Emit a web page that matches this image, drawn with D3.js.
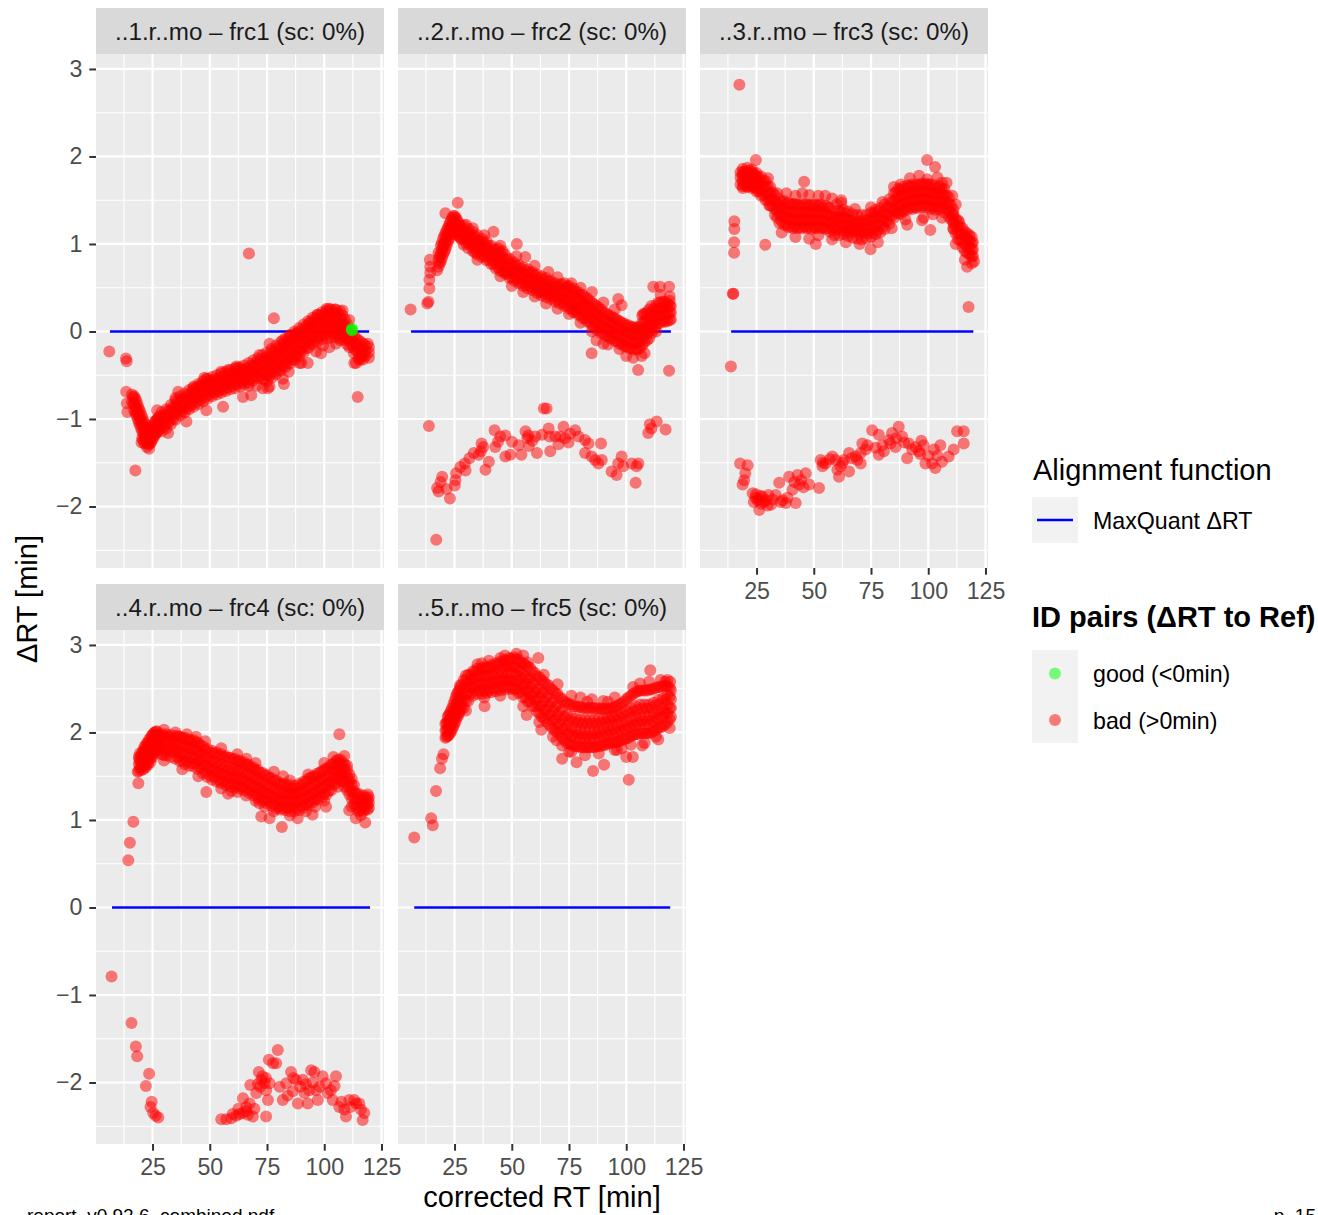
<!DOCTYPE html>
<html><head><meta charset="utf-8">
<script src="https://cdn.jsdelivr.net/npm/d3@7"></script>
<style>
body{margin:0;background:#fff;}
svg text{font-family:"Liberation Sans",Arial,Helvetica,sans-serif;}
</style>
</head><body>
<svg id="chart" width="1318" height="1215"></svg>
<script>
// ---------- data ----------
const stripLabels = ["..1.r..mo \u2013 frc1 (sc: 0%)","..2.r..mo \u2013 frc2 (sc: 0%)","..3.r..mo \u2013 frc3 (sc: 0%)","..4.r..mo \u2013 frc4 (sc: 0%)","..5.r..mo \u2013 frc5 (sc: 0%)"];
const xTickValues = [25,50,75,100,125];
const xMinorValues = [12.5,37.5,62.5,87.5,112.5];
const yTickValues = [-2,-1,0,1,2,3];
const yMinorValues = [-2.5,-1.5,-0.5,0.5,1.5,2.5];
const xDomain = [0.3,126.1];
const yDomain = [-2.703,3.171];
const alignStart = [6.4,6.0,13.9,7.3,7.4];
const alignEnd = [119.6,119.5,119.7,120.0,119.2];

// dense bands: [x, y values...]
const band1 = [
[16,-0.72,-0.80],[17,-0.74,-0.82,-0.90],[18,-0.80,-0.88,-0.96],[19,-0.88,-0.96,-1.04],[20,-0.95,-1.03,-1.11],
[21,-1.02,-1.10,-1.18,-1.25],[22,-1.08,-1.16,-1.24],[23,-1.12,-1.20,-1.28],[24,-1.14,-1.22,-1.28],[25,-1.08,-1.16,-1.23],
[26,-1.03,-1.10,-1.18],[27,-1.00,-1.07,-1.15],[28,-0.97,-1.04,-1.11],[30,-0.95,-1.02,-1.09],[32,-0.90,-0.97,-1.04],
[34,-0.86,-0.93,-1.00],[36,-0.80,-0.87,-0.94],[38,-0.77,-0.84,-0.91],[40,-0.73,-0.80,-0.88],[42,-0.69,-0.76,-0.84],
[44,-0.65,-0.73,-0.81],[46,-0.62,-0.70,-0.78],[48,-0.59,-0.67,-0.75],[50,-0.57,-0.64,-0.72],[52,-0.55,-0.62,-0.70],
[54,-0.53,-0.60,-0.68],[56,-0.51,-0.58,-0.66],[58,-0.49,-0.56,-0.64],[60,-0.47,-0.54,-0.62],[62,-0.46,-0.53,-0.60],
[64,-0.44,-0.51,-0.58],[66,-0.42,-0.49,-0.57],[68,-0.39,-0.46,-0.54],[70,-0.36,-0.43,-0.51],[72,-0.33,-0.41,-0.50],
[74,-0.30,-0.38,-0.47,-0.55],[76,-0.26,-0.34,-0.43,-0.51],[78,-0.22,-0.30,-0.39,-0.47],[80,-0.18,-0.26,-0.35,-0.44],
[82,-0.14,-0.22,-0.31,-0.40],[84,-0.10,-0.18,-0.27,-0.36],[86,-0.06,-0.14,-0.23,-0.32],[88,-0.02,-0.10,-0.19,-0.28],
[90,0.02,-0.06,-0.14,-0.23],[92,0.06,-0.02,-0.10,-0.19],[94,0.11,0.03,-0.05,-0.14],[96,0.15,0.07,-0.01,-0.10],
[98,0.18,0.10,0.02,-0.06],[100,0.20,0.12,0.04,-0.04],[102,0.21,0.13,0.05,-0.04],[104,0.22,0.14,0.06,-0.02],
[106,0.21,0.13,0.05,-0.03],[108,0.18,0.10,0.02,-0.05],[110,0.08,0.00,-0.08,-0.15],[112,-0.02,-0.09,-0.16],
[114,-0.08,-0.15,-0.22],[116,-0.12,-0.19,-0.26,-0.30],[118,-0.16,-0.22,-0.28],[119.5,-0.18,-0.24,-0.30]
];
const band1b = [
[16.5,-0.75,-0.83],[17.5,-0.77,-0.85,-0.93],[18.5,-0.84,-0.92,-1.00],[19.5,-0.91,-0.99,-1.07],[20.5,-0.98,-1.06,-1.14,-1.22],
[21.5,-1.05,-1.13,-1.21,-1.28],[22.5,-1.10,-1.18,-1.26,-1.32],[23.5,-1.13,-1.21,-1.29,-1.34],[24.5,-1.11,-1.19,-1.26],
[25.5,-1.06,-1.13,-1.21],[26.5,-1.02,-1.09,-1.17],[27.5,-0.99,-1.06,-1.13],
[29,-0.92,-0.99,-1.07,-1.14],[31,-0.89,-0.96,-1.04,-1.11],[33,-0.84,-0.91,-0.99,-1.06],[35,-0.79,-0.86,-0.94,-1.01],
[37,-0.74,-0.81,-0.89,-0.96],[39,-0.71,-0.78,-0.86,-0.93],[41,-0.67,-0.74,-0.82,-0.89],[43,-0.63,-0.70,-0.78,-0.86],
[45,-0.60,-0.67,-0.75,-0.83],[47,-0.57,-0.64,-0.72,-0.80],[49,-0.54,-0.61,-0.69,-0.77],[51,-0.52,-0.59,-0.67,-0.74],
[53,-0.50,-0.57,-0.65,-0.72],[55,-0.48,-0.55,-0.63,-0.70],[57,-0.46,-0.53,-0.61,-0.68],[59,-0.44,-0.51,-0.59,-0.66],
[61,-0.42,-0.49,-0.57,-0.65],[63,-0.41,-0.48,-0.56,-0.63],[65,-0.39,-0.46,-0.54,-0.61],[67,-0.36,-0.43,-0.51,-0.59],
[69,-0.33,-0.40,-0.48,-0.56],[71,-0.31,-0.38,-0.46,-0.53],[73,-0.27,-0.35,-0.45,-0.54],[75,-0.24,-0.32,-0.41,-0.50,-0.57],
[77,-0.20,-0.28,-0.37,-0.46,-0.53],[79,-0.16,-0.24,-0.33,-0.42,-0.49],[81,-0.12,-0.20,-0.29,-0.38,-0.45],
[83,-0.08,-0.16,-0.25,-0.34,-0.41],[85,-0.04,-0.12,-0.21,-0.30,-0.37],[87,0.00,-0.08,-0.17,-0.26,-0.33],
[89,0.04,-0.04,-0.13,-0.22,-0.29],[91,0.08,0.00,-0.08,-0.17,-0.24],[93,0.12,0.04,-0.04,-0.12,-0.19],
[95,0.16,0.08,0.00,-0.08,-0.15],[97,0.19,0.11,0.03,-0.05,-0.12],[99,0.22,0.14,0.06,-0.02,-0.09],
[101,0.24,0.16,0.08,0.00,-0.08],[103,0.25,0.17,0.09,0.01,-0.07],[105,0.25,0.17,0.09,0.01,-0.07],
[107,0.23,0.15,0.07,-0.01,-0.08],[109,0.14,0.06,-0.02,-0.10],[111,0.03,-0.04,-0.11,-0.18],[113,-0.05,-0.12,-0.19,-0.25],
[115,-0.10,-0.17,-0.24,-0.31],[117,-0.14,-0.21,-0.27,-0.32]
];
const edge1 = [[42.7,-0.65],[48.5,-0.54],[61.6,-0.40],[71.7,-0.27],[76.1,-0.14],[81.9,-0.10],[87.7,-0.02],[93.5,0.09],
[97.2,0.19],[102.2,0.26],[108.0,0.24],[110.9,0.13],[119.0,-0.14],[73.2,-0.65],[76.1,-0.63],[64.5,-0.75],[55.8,-0.86],
[48.5,-0.90],[39.8,-1.03],[31.8,-1.16],[81.9,-0.54],[89.2,-0.36],[96.4,-0.23],[105.1,-0.14],[102.2,-0.18],[113.9,-0.36],
[35.0,-0.76],[58.0,-0.44],[67.0,-0.62],[84.5,-0.46],[99.5,-0.16],[107.0,-0.10],[115.5,-0.33]];
const loose1 = [[6.1,-0.23],[13.4,-0.31],[13.7,-0.34],[13.5,-0.69],[13.8,-0.82],[14.0,-0.92],[17.5,-1.59],[20.2,-1.27],
[67.1,0.89],[78.0,0.15],[82.4,-0.60],[114.6,-0.75],[113.1,-0.36],[36.2,-0.69],[27.0,-0.90],[47.6,-0.53],[55.0,-0.46],
[68.1,-0.73],[75.4,-0.65],[98.6,-0.25],[92.8,-0.36],[90.0,-0.36],[45.6,-0.62],[62.0,-0.42],[70.5,-0.62],[85.0,-0.05],
[104.6,0.25],[101.0,0.26]];
const goodUnder1 = [[90.8,0.0],[91.6,0.0],[108.3,0.0],[108.9,0.01]];
const goodOver1 = [[112.0,0.02],[112.2,0.01],[112.1,0.03]];

const band2 = [
[18,0.74,0.82,0.90],[19,0.80,0.89,0.98],[20,0.88,0.97,1.06],[21,0.94,1.03,1.12],[22,1.02,1.10,1.18],[23,1.08,1.16,1.24],
[24,1.14,1.22,1.30],[25,1.16,1.24,1.32],[26,1.12,1.20,1.28],[27,1.09,1.16,1.22],[28,1.05,1.12,1.18],[30,1.01,1.08,1.14],
[32,0.98,1.05,1.12],[34,0.94,1.01,1.08],[36,0.90,0.97,1.04],[38,0.86,0.94,1.01],[40,0.82,0.90,0.98],[42,0.77,0.85,0.93],
[44,0.73,0.81,0.89,0.95],[46,0.69,0.77,0.85,0.92],[48,0.66,0.74,0.82],[50,0.62,0.70,0.78],[52,0.59,0.67,0.75],
[54,0.56,0.64,0.72],[56,0.53,0.61,0.69],[58,0.51,0.59,0.67],[60,0.49,0.56,0.64],[62,0.46,0.53,0.61],[64,0.44,0.51,0.59],
[66,0.42,0.49,0.57],[68,0.39,0.46,0.54],[70,0.36,0.43,0.51],[72,0.33,0.40,0.48,0.54],[74,0.30,0.37,0.45,0.51],
[76,0.26,0.34,0.42,0.48],[78,0.22,0.30,0.38,0.45],[80,0.19,0.27,0.35,0.42],[82,0.15,0.23,0.31,0.39],[84,0.11,0.19,0.27,0.35],
[86,0.06,0.14,0.22,0.31],[88,0.02,0.10,0.18,0.27],[90,-0.02,0.06,0.14,0.22],[92,-0.05,0.03,0.11,0.19],[94,-0.08,0.00,0.08,0.16],
[96,-0.11,-0.03,0.05,0.13],[98,-0.14,-0.06,0.02,0.10],[100,-0.17,-0.09,-0.01,0.07],[102,-0.19,-0.11,-0.03,0.05],
[104,-0.20,-0.12,-0.04,0.04],[106,-0.19,-0.11,-0.03,0.05],[108,-0.12,-0.04,0.04,0.12,0.20],[110,-0.08,0.00,0.08,0.16,0.25],
[112,0.02,0.10,0.18,0.26],[114,0.10,0.18,0.26,0.33],[116,0.12,0.20,0.28,0.34],[118,0.12,0.20,0.27,0.32],[119.5,0.14,0.22,0.29]
];
const band2b = [
[18.5,0.78,0.86],[19.5,0.84,0.93,1.01],[20.5,0.91,1.00,1.09],[21.5,0.98,1.07,1.15],[22.5,1.05,1.13,1.21],[23.5,1.11,1.19,1.27],
[24.5,1.16,1.24,1.32],[25.5,1.14,1.22,1.30],[26.5,1.10,1.18,1.25],[27.5,1.07,1.14,1.21],
[29,0.99,1.06,1.14,1.21],[31,0.95,1.02,1.10,1.17],[33,0.92,0.99,1.07,1.14],[35,0.88,0.95,1.03,1.10],[37,0.85,0.92,0.99,1.06],
[39,0.81,0.88,0.96,1.03],[41,0.77,0.84,0.91,0.98],[43,0.72,0.79,0.87,0.94],[45,0.69,0.76,0.84,0.91],[47,0.66,0.73,0.81,0.88],
[49,0.61,0.68,0.76,0.83],[51,0.58,0.65,0.72,0.79],[53,0.55,0.62,0.69,0.76],[55,0.52,0.59,0.66,0.73],[57,0.49,0.56,0.64,0.71],
[59,0.47,0.54,0.61,0.68],[61,0.44,0.51,0.58,0.65],[63,0.41,0.48,0.56,0.63],[65,0.39,0.46,0.54,0.61],[67,0.37,0.44,0.51,0.58],
[69,0.34,0.41,0.48,0.55],[71,0.32,0.39,0.47,0.54],[73,0.29,0.37,0.46,0.55],[75,0.26,0.34,0.43,0.52],[77,0.22,0.30,0.40,0.49],
[79,0.19,0.27,0.36,0.45],[81,0.15,0.23,0.33,0.42],[83,0.11,0.19,0.29,0.38],[85,0.07,0.15,0.24,0.33],[87,0.02,0.10,0.20,0.29],
[89,-0.02,0.06,0.16,0.25],[91,-0.05,0.03,0.12,0.21],[93,-0.08,0.00,0.09,0.18],[95,-0.11,-0.03,0.06,0.15],
[97,-0.14,-0.06,0.03,0.12],[99,-0.17,-0.09,0.00,0.09],[101,-0.19,-0.11,-0.02,0.07],[103,-0.21,-0.13,-0.04,0.05],
[105,-0.21,-0.13,-0.04,0.05],[107,-0.16,-0.08,0.01,0.10,0.18],[109,-0.10,-0.02,0.06,0.14,0.22],[111,-0.02,0.06,0.14,0.22,0.29],
[113,0.06,0.14,0.22,0.30],[115,0.10,0.18,0.26,0.33],[117,0.11,0.19,0.27,0.34],[119,0.13,0.21,0.29,0.35]
];
const edge2 = [[30,1.22],[38,1.10],[45,0.98],[60,0.75],[70,0.62],[80,0.50],[85,0.45],[90,0.33],[95,0.25],[35,0.82],[45,0.63],
[55,0.45],[65,0.32],[75,0.20],[85,0.00],[92,-0.15],[100,-0.28],[103,-0.30],[108,-0.25],[113,0.0],[33,1.18],[52,0.86],
[66,0.68],[76,0.55],[50,0.52],[60,0.40],[70,0.26],[80,0.10],[97,-0.20],[115,0.42],[119,0.40]];
const loose2 = [[5.8,0.25],[13.1,0.32],[13.6,0.34],[14.0,0.49],[14.0,0.59],[14.4,0.67],[14.4,0.74],[14.2,0.82],[17.4,0.70],
[26.4,1.47],[21.0,1.35],[42.0,1.14],[52.2,1.00],[55.9,0.85],[111.8,0.51],[114.7,0.51],[118.7,0.51],[96.5,0.37],[98.0,0.30],
[84.9,-0.25],[105.2,-0.44],[118.7,-0.45],[106.7,-0.28],[87.0,-0.10],[90.0,-0.14],[107.4,0.20],[34.0,0.90],[47.0,0.68],
[63.0,0.45],[78.0,0.25]];
const lower2 = [[13.8,-1.08],[17.0,-2.38],[17.4,-1.79],[18.9,-1.72],[19.6,-1.66],[23.0,-1.91],[25.4,-1.70],[25.7,-1.62],
[25.1,-1.76],[18.0,-1.83],[21.5,-1.80],[29.5,-1.51],[29.8,-1.59],[33.4,-1.39],[35.6,-1.41],[36.5,-1.37],[37.5,-1.32],
[36.8,-1.28],[38.5,-1.58],[40.0,-1.49],[42.5,-1.13],[42.8,-1.32],[45.0,-1.20],[47.2,-1.19],[47.2,-1.43],[49.4,-1.41],
[50.1,-1.26],[54.2,-1.41],[56.0,-1.14],[56.8,-1.22],[57.5,-1.31],[57.2,-1.19],[61.0,-1.39],[60.3,-1.20],[63.2,-1.18],
[64.0,-0.88],[65.2,-0.88],[66.1,-1.11],[66.5,-1.20],[66.8,-1.37],[69.0,-1.20],[71.2,-1.20],[72.6,-1.09],[73.3,-1.22],
[70.4,-1.29],[74.8,-1.27],[77.7,-1.13],[79.1,-1.20],[82.0,-1.24],[83.5,-1.28],[82.0,-1.39],[84.9,-1.43],[86.4,-1.47],
[87.8,-1.51],[89.3,-1.47],[89.0,-1.28],[93.6,-1.60],[95.8,-1.64],[98.0,-1.43],[96.5,-1.51],[98.7,-1.54],[102.4,-1.51],
[104.5,-1.54],[105.3,-1.51],[104.1,-1.73],[110.3,-1.06],[109.6,-1.16],[113.3,-1.03],[117.2,-1.12],[111.0,-1.11],
[59.0,-1.25],[53.0,-1.30],[44.0,-1.26],[31.5,-1.45],[27.5,-1.55],[75.5,-1.17]];
const goodUnder2 = [[102.2,0.0],[105.1,0.0],[106.6,0.0]];

const band3 = [
[18,1.68,1.76,1.82],[19,1.66,1.74,1.82],[20,1.67,1.75,1.83],[21,1.66,1.74,1.82],[22,1.68,1.76,1.84],[23,1.66,1.74,1.82],
[24,1.65,1.73,1.80],[25,1.63,1.71,1.78],[26,1.60,1.68,1.76],[28,1.56,1.64,1.72],[30,1.50,1.58,1.66],[32,1.43,1.51,1.59],
[34,1.30,1.38,1.46],[36,1.26,1.34,1.42,1.48],[38,1.22,1.30,1.38,1.46],[40,1.20,1.28,1.36,1.45],[42,1.20,1.28,1.36,1.45],
[44,1.19,1.27,1.35,1.44],[46,1.20,1.28,1.36,1.45],[48,1.19,1.27,1.35,1.44],[50,1.19,1.27,1.35,1.44],[52,1.20,1.28,1.36,1.44],
[54,1.19,1.27,1.35,1.42],[56,1.18,1.26,1.34,1.42],[58,1.17,1.25,1.32],[60,1.16,1.23,1.31],[62,1.15,1.22,1.30,1.36],
[64,1.15,1.22,1.29,1.35],[66,1.14,1.21,1.28],[68,1.13,1.20,1.27],[70,1.12,1.19,1.26],[72,1.12,1.19,1.27],[74,1.12,1.20,1.28],
[76,1.13,1.21,1.29,1.35],[78,1.15,1.23,1.31,1.37],[80,1.20,1.28,1.36],[82,1.26,1.34,1.42],[84,1.32,1.40,1.48],
[86,1.36,1.44,1.52,1.59],[88,1.38,1.46,1.54,1.62],[90,1.40,1.48,1.56,1.63],[92,1.42,1.50,1.58,1.66],[94,1.42,1.50,1.58,1.66],
[96,1.43,1.51,1.59,1.67],[98,1.44,1.52,1.60,1.68],[100,1.43,1.51,1.59,1.68],[102,1.42,1.50,1.58,1.64],[104,1.42,1.50,1.58,1.64],
[106,1.42,1.50,1.57,1.62],[108,1.40,1.48,1.56],[110,1.28,1.36,1.44],[111,1.18,1.26,1.34],[112,1.12,1.20,1.28],
[114,1.04,1.12,1.20],[116,0.92,1.00,1.08,1.14],[118,0.88,0.96,1.04,1.10],[119.5,0.86,0.94,1.02]
];
const band3b = [
[19,1.64,1.71,1.79,1.86],[21,1.65,1.72,1.80,1.87],[23,1.64,1.71,1.78,1.85],[25,1.60,1.67,1.74,1.81],[27,1.55,1.62,1.70,1.77],
[29,1.50,1.57,1.65,1.72],[31,1.44,1.51,1.58,1.65],[33,1.33,1.40,1.49,1.56],[35,1.24,1.33,1.42,1.51],[37,1.22,1.31,1.40,1.49],
[39,1.19,1.28,1.38,1.47],[41,1.18,1.27,1.37,1.46],[43,1.18,1.27,1.36,1.45],[45,1.18,1.27,1.36,1.45],[47,1.18,1.27,1.36,1.45],
[49,1.17,1.26,1.36,1.45],[51,1.18,1.27,1.36,1.45],[53,1.18,1.27,1.36,1.45],[55,1.17,1.26,1.35,1.44],[57,1.14,1.23,1.32,1.41],
[59,1.10,1.19,1.29,1.38],[61,1.10,1.19,1.29,1.38],[63,1.11,1.20,1.30,1.39],[65,1.09,1.18,1.28,1.37],[67,1.07,1.16,1.25,1.34],
[69,1.06,1.15,1.24,1.33],[71,1.05,1.14,1.24,1.33],[73,1.06,1.15,1.24,1.33],[75,1.08,1.17,1.27,1.36],[77,1.11,1.20,1.30,1.39],
[79,1.13,1.22,1.32,1.41],[81,1.17,1.26,1.36,1.45],[83,1.23,1.32,1.42,1.51],[85,1.30,1.39,1.49,1.58],[87,1.35,1.44,1.54,1.63],
[89,1.37,1.46,1.56,1.65],[91,1.39,1.48,1.58,1.67],[93,1.40,1.49,1.59,1.68],[95,1.41,1.50,1.59,1.68],[97,1.42,1.51,1.60,1.69],
[99,1.42,1.51,1.60,1.69],[101,1.40,1.49,1.59,1.68],[103,1.39,1.48,1.58,1.67],[105,1.39,1.48,1.57,1.66],[107,1.36,1.45,1.55,1.63],
[109,1.31,1.38,1.46,1.53],[111,1.17,1.24,1.32,1.39],[113,1.05,1.12,1.20,1.27],[115,0.96,1.03,1.11,1.18],[117,0.90,0.97,1.05,1.12],
[119,0.86,0.93,1.01,1.08]
];
const edge3 = [[30,1.75],[38,1.58],[42,1.55],[48,1.56],[55,1.55],[60,1.45],[68,1.40],[75,1.42],[85,1.65],[92,1.75],[96,1.78],
[104,1.76],[108,1.70],[112,1.45],[36,1.13],[42,1.08],[48,1.06],[58,1.05],[64,1.02],[70,1.00],[78,1.02],[84,1.18],[90,1.28],
[98,1.30],[106,1.30],[112,1.00],[116,0.82],[119,0.78],[34,1.58],[45,1.58],[52,1.10],[62,1.50],[80,1.48],[88,1.34],[102,1.34]];
const loose3 = [[17.5,2.82],[15.3,1.26],[15.3,1.17],[15.2,1.02],[15.2,0.90],[14.6,0.43],[14.9,0.43],[28.8,0.99],[45.8,1.71],
[24.7,1.96],[99.5,1.96],[103.0,1.88],[99.5,1.74],[117.6,0.28],[117.0,0.74],[100.9,1.16],[50.9,1.00],[74.8,0.94],[90.8,1.22],
[97.3,1.27],[30.6,1.44],[52.0,1.55],[58.0,1.52],[65.0,1.13],[62.0,1.47],[88.0,1.68],[106.0,1.70],[110.5,1.55],[113.5,1.25],
[120.0,0.80],[13.8,-0.40]];
const lower3 = [[17.8,-1.51],[21.1,-1.53],[20.1,-1.62],[19.6,-1.70],[18.9,-1.75],[23.3,-1.85],[25.4,-1.93],[26.2,-2.04],
[27.6,-1.89],[29.1,-1.93],[31.3,-1.98],[33.4,-1.87],[34.9,-1.73],[36.3,-1.93],[37.8,-1.96],[39.2,-1.66],[40.7,-1.81],
[42.1,-1.96],[42.9,-1.64],[43.6,-1.75],[46.5,-1.62],[48.0,-1.75],[52.3,-1.79],[24.5,-1.90],[26.8,-1.88],[28.3,-1.95],
[30.2,-1.87],[32.0,-1.92],[35.5,-1.95],[38.5,-1.90],[41.5,-1.72],[44.5,-1.70],[45.5,-1.78],[23.8,-1.95],[27.0,-1.97],
[29.8,-1.99],[24.8,-1.86],[26.0,-1.92],[53.0,-1.47],[53.8,-1.54],[55.2,-1.51],[58.1,-1.43],[59.6,-1.47],[61.7,-1.54],
[61.0,-1.66],[60.3,-1.58],[63.2,-1.47],[65.4,-1.39],[65.4,-1.60],[68.3,-1.43],[70.5,-1.51],[70.5,-1.39],[71.2,-1.28],
[72.6,-1.35],[54.0,-1.50],[57.0,-1.46],[62.5,-1.50],[66.5,-1.45],[69.0,-1.47],[73.5,-1.30],[75.5,-1.13],[78.4,-1.18],
[77.0,-1.33],[78.4,-1.41],[80.6,-1.37],[82.8,-1.24],[84.2,-1.16],[87.1,-1.09],[85.7,-1.32],[88.6,-1.20],[91.5,-1.28],
[90.8,-1.45],[93.0,-1.35],[95.9,-1.37],[98.0,-1.30],[98.8,-1.51],[101.7,-1.51],[103.1,-1.56],[105.3,-1.30],[106.0,-1.49],
[108.9,-1.43],[111.1,-1.35],[112.6,-1.14],[115.5,-1.14],[115.5,-1.28],[80.0,-1.30],[83.5,-1.28],[86.0,-1.22],[89.5,-1.27],
[94.5,-1.32],[96.5,-1.40],[100.0,-1.42],[97.0,-1.25],[102.5,-1.35],[104.0,-1.42]];

const band4 = [
[19,1.56,1.64,1.72],[20,1.57,1.65,1.73],[21,1.58,1.66,1.74,1.80],[22,1.60,1.68,1.76,1.84],[23,1.63,1.71,1.79,1.88],
[24,1.66,1.74,1.82,1.92],[25,1.72,1.80,1.88,1.97],[26,1.78,1.86,1.94,2.00],[27,1.80,1.88,1.96,2.01],[28,1.80,1.88,1.96],
[30,1.80,1.88,1.96],[32,1.79,1.87,1.95],[34,1.77,1.85,1.93],[36,1.72,1.80,1.88,1.96],[38,1.68,1.76,1.84,1.94],
[40,1.67,1.75,1.83,1.92],[42,1.65,1.73,1.81,1.90],[44,1.64,1.72,1.80,1.89],[46,1.60,1.68,1.76,1.85],[48,1.55,1.63,1.71,1.80],
[50,1.51,1.59,1.67,1.77],[52,1.49,1.57,1.65,1.76],[54,1.46,1.54,1.62,1.74],[56,1.44,1.52,1.60,1.72],[58,1.42,1.50,1.58,1.71],
[60,1.41,1.49,1.57,1.69],[62,1.40,1.48,1.56,1.67],[64,1.38,1.46,1.54,1.65],[66,1.36,1.44,1.52,1.63],[68,1.33,1.41,1.49,1.60],
[70,1.30,1.38,1.46,1.57],[72,1.27,1.35,1.43,1.54],[74,1.24,1.32,1.40,1.51],[76,1.21,1.29,1.37,1.48],[78,1.18,1.26,1.34,1.45],
[80,1.15,1.23,1.31,1.42],[82,1.14,1.22,1.30,1.40],[84,1.14,1.22,1.30,1.38],[86,1.14,1.22,1.30,1.36],[88,1.14,1.22,1.30,1.36],
[90,1.16,1.24,1.32,1.40],[92,1.18,1.26,1.34,1.44],[94,1.21,1.29,1.37,1.48],[96,1.24,1.32,1.40,1.50],[98,1.28,1.36,1.44,1.54],
[100,1.30,1.38,1.46,1.57],[102,1.33,1.41,1.49,1.60],[104,1.40,1.48,1.56,1.64],[106,1.48,1.56,1.64,1.69],[108,1.44,1.52,1.60,1.66],
[110,1.34,1.42,1.50,1.57],[112,1.24,1.32,1.40,1.47],[114,1.14,1.22,1.30],[116,1.11,1.18,1.26],[118,1.12,1.19,1.26],
[119.5,1.14,1.20,1.26]
];
const band4b = [
[19.5,1.60,1.68,1.76],[20.5,1.61,1.69,1.77],[21.5,1.62,1.70,1.78,1.84],[22.5,1.64,1.72,1.80,1.88],[23.5,1.68,1.76,1.84,1.92],
[24.5,1.72,1.80,1.88,1.96],[25.5,1.76,1.84,1.92,1.99],[26.5,1.80,1.88,1.96,2.01],[27.5,1.82,1.90,1.97],
[29,1.75,1.83,1.92,1.98],[31,1.74,1.82,1.92,1.98],[33,1.72,1.81,1.91,1.97],[35,1.70,1.79,1.89,1.96],[37,1.67,1.76,1.87,1.95],
[39,1.64,1.73,1.85,1.94],[41,1.62,1.71,1.83,1.92],[43,1.61,1.70,1.82,1.91],[45,1.58,1.67,1.79,1.88],[47,1.53,1.63,1.75,1.84],
[49,1.49,1.59,1.71,1.81],[51,1.46,1.56,1.68,1.79],[53,1.44,1.54,1.66,1.77],[55,1.42,1.52,1.64,1.75],[57,1.40,1.50,1.62,1.73],
[59,1.38,1.48,1.60,1.71],[61,1.37,1.47,1.59,1.70],[63,1.36,1.46,1.58,1.68],[65,1.34,1.44,1.56,1.66],[67,1.31,1.41,1.53,1.63],
[69,1.28,1.38,1.50,1.60],[71,1.25,1.35,1.47,1.57],[73,1.22,1.32,1.44,1.54],[75,1.19,1.29,1.41,1.51],[77,1.16,1.26,1.38,1.48],
[79,1.13,1.23,1.35,1.45],[81,1.12,1.22,1.33,1.42],[83,1.11,1.21,1.32,1.41],[85,1.10,1.20,1.31,1.40],[87,1.10,1.20,1.30,1.39],
[89,1.11,1.21,1.32,1.41],[91,1.14,1.24,1.35,1.44],[93,1.17,1.27,1.38,1.47],[95,1.20,1.30,1.41,1.50],[97,1.23,1.33,1.44,1.53],
[99,1.26,1.36,1.47,1.56],[101,1.29,1.39,1.50,1.59],[103,1.34,1.44,1.55,1.63],[105,1.42,1.51,1.60,1.67],[107,1.45,1.53,1.62,1.69],
[109,1.38,1.47,1.56,1.63],[111,1.29,1.37,1.45,1.52],[113,1.18,1.25,1.33,1.40],[115,1.10,1.16,1.24,1.30],[117,1.10,1.16,1.22,1.28],
[119,1.12,1.18,1.24,1.29]
];
const edge4 = [[30,2.03],[40,1.98],[48,1.90],[55,1.82],[62,1.75],[70,1.65],[78,1.55],[85,1.45],[93,1.52],[100,1.65],[104,1.72],
[30,1.68],[38,1.58],[45,1.50],[55,1.36],[62,1.32],[70,1.22],[78,1.10],[85,1.05],[92,1.10],[100,1.22],[106,1.38],[112,1.15],
[116,1.05],[35,2.00],[44,1.95],[58,1.30],[66,1.70],[74,1.15],[82,1.50],[96,1.15],[110,1.62]];
const loose4 = [[7.1,-0.79],[14.4,0.54],[15.1,0.74],[16.6,0.98],[18.8,1.42],[106.6,1.98],[29.9,1.74],[48.5,1.32],[59.4,1.33],
[65.9,1.28],[71.7,1.19],[72.5,1.04],[76.1,1.02],[81.5,0.92],[88.4,1.02],[94.9,1.06],[100.8,1.15],[110.9,1.11],[113.8,1.02],
[117.9,0.97],[108.8,1.73],[18.5,1.55],[19.2,1.70]];
const lower4 = [[15.8,-1.32],[17.7,-1.59],[18.3,-1.70],[23.5,-1.90],[22.1,-2.04],[24.6,-2.22],[24.1,-2.28],[25.3,-2.35],
[26.4,-2.38],[27.5,-2.40],[55.0,-2.42],[57.2,-2.42],[59.4,-2.41],[61.6,-2.38],[64.5,-2.35],[66.7,-2.37],[68.8,-2.39],
[64.5,-2.18],[65.9,-2.28],[67.4,-2.24],[67.7,-2.03],[70.3,-2.12],[71.4,-1.88],[72.5,-1.97],[73.9,-2.01],[74.6,-2.09],
[75.4,-2.20],[76.1,-2.01],[75.8,-1.74],[77.6,-1.78],[79.7,-1.63],[79.0,-1.78],[74.6,-2.39],[81.9,-2.20],[83.4,-2.01],
[85.5,-1.88],[86.3,-2.10],[87.7,-1.97],[88.5,-2.24],[90.6,-1.97],[91.4,-2.12],[92.8,-2.24],[93.5,-2.09],[94.3,-1.86],
[95.7,-1.88],[96.4,-2.09],[97.2,-2.20],[99.3,-1.93],[100.8,-2.01],[102.9,-2.09],[103.7,-2.20],[105.1,-1.93],[106.6,-2.28],
[108.8,-2.31],[109.5,-2.39],[110.9,-2.20],[113.1,-2.20],[115.3,-2.24],[116.0,-2.31],[116.8,-2.43],[117.5,-2.35],
[72.0,-2.05],[73.0,-1.93],[74.5,-1.95],[71.0,-2.02],[69.5,-2.30],[63.0,-2.36],[60.0,-2.36],[62.5,-2.30],[66.0,-2.33],
[80.5,-2.05],[84.0,-2.15],[89.5,-2.05],[92.0,-2.02],[98.0,-2.05],[101.5,-2.12],[104.5,-2.04],[107.5,-2.22],[111.5,-2.28],
[114.0,-2.24],[95.0,-2.00],[86.5,-1.95]];

const band5 = [
[21,1.94,2.02,2.10],[22,1.96,2.04,2.12,2.18],[23,1.99,2.07,2.15,2.22],[24,2.04,2.12,2.20,2.28],[25,2.10,2.18,2.26,2.36],
[26,2.17,2.25,2.33,2.44],[27,2.22,2.30,2.38,2.48],[28,2.28,2.36,2.44,2.54],[30,2.36,2.44,2.52,2.60],[32,2.44,2.52,2.60,2.66],
[34,2.48,2.56,2.64,2.70],[36,2.48,2.56,2.64,2.72],[38,2.48,2.56,2.64,2.73],[40,2.48,2.56,2.64,2.74],[42,2.50,2.58,2.66,2.76],
[44,2.51,2.59,2.67,2.78],[46,2.52,2.60,2.68,2.80],[48,2.52,2.60,2.68,2.76,2.82],[50,2.52,2.60,2.68,2.76,2.84],
[52,2.50,2.58,2.66,2.74,2.84],[54,2.46,2.54,2.62,2.70,2.80],[56,2.40,2.48,2.56,2.64,2.77],[58,2.36,2.44,2.52,2.62,2.74],
[60,2.30,2.38,2.46,2.56,2.68],[62,2.22,2.30,2.40,2.50,2.63],[64,2.16,2.26,2.36,2.46,2.58],[66,2.10,2.20,2.30,2.42,2.54],
[68,2.04,2.14,2.24,2.36,2.48],[70,2.00,2.10,2.20,2.32,2.44],[72,1.94,2.04,2.14,2.26,2.38],[74,1.88,1.98,2.08,2.20,2.34],
[76,1.86,1.96,2.06,2.18,2.32],[78,1.84,1.94,2.04,2.16,2.30],[80,1.83,1.93,2.03,2.15,2.29],[82,1.83,1.93,2.03,2.15,2.28],
[84,1.83,1.93,2.03,2.15,2.28],[86,1.83,1.93,2.03,2.15,2.28],[88,1.84,1.94,2.04,2.16,2.28],[90,1.85,1.95,2.05,2.16,2.27],
[92,1.87,1.97,2.07,2.17,2.26],[94,1.88,1.98,2.08,2.18,2.28],[96,1.89,1.99,2.09,2.20,2.30],[98,1.91,2.01,2.11,2.22,2.33],
[100,1.93,2.03,2.13,2.25,2.38],[102,1.96,2.06,2.16,2.28,2.42],[104,1.98,2.08,2.18,2.30,2.46],[106,1.99,2.09,2.20,2.32,2.48],
[108,1.99,2.09,2.20,2.32,2.48],[110,1.99,2.09,2.20,2.32,2.49],[112,2.02,2.12,2.22,2.34,2.50],[114,2.05,2.15,2.25,2.37,2.52],
[116,2.07,2.17,2.27,2.39,2.53],[118,2.12,2.22,2.32,2.43,2.53],[119.5,2.18,2.28,2.38,2.48]
];
const band5b = [
[21.5,1.95,2.03,2.11],[22.5,1.97,2.05,2.13,2.20],[23.5,2.01,2.09,2.17,2.25],[24.5,2.07,2.15,2.23,2.32],[25.5,2.13,2.21,2.30,2.40],
[26.5,2.19,2.27,2.36,2.46],[27.5,2.25,2.33,2.41,2.51],
[29,2.28,2.38,2.50,2.60],[31,2.36,2.46,2.57,2.66],[33,2.42,2.52,2.62,2.70],[35,2.44,2.54,2.65,2.73],[37,2.44,2.54,2.66,2.74],
[39,2.45,2.55,2.66,2.75],[41,2.46,2.56,2.68,2.77],[43,2.47,2.57,2.70,2.79],[45,2.48,2.59,2.71,2.81],[47,2.49,2.60,2.73,2.83],
[49,2.50,2.61,2.74,2.85],[51,2.49,2.60,2.74,2.86],[53,2.45,2.57,2.71,2.83],[55,2.40,2.52,2.66,2.79],[57,2.35,2.47,2.61,2.75],
[59,2.30,2.42,2.56,2.70],[61,2.24,2.36,2.50,2.64],[63,2.18,2.31,2.45,2.60],[65,2.13,2.26,2.40,2.55],[67,2.07,2.20,2.34,2.50],
[69,2.02,2.15,2.29,2.45],[71,1.97,2.10,2.24,2.40],[73,1.91,2.04,2.18,2.35],[75,1.87,2.00,2.14,2.32],[77,1.85,1.98,2.12,2.30],
[79,1.84,1.97,2.11,2.29],[81,1.83,1.96,2.10,2.28],[83,1.83,1.96,2.10,2.28],[85,1.83,1.96,2.10,2.28],[87,1.84,1.97,2.10,2.27],
[89,1.85,1.98,2.11,2.27],[91,1.86,1.99,2.12,2.27],[93,1.88,2.01,2.14,2.28],[95,1.89,2.02,2.15,2.29],[97,1.90,2.03,2.17,2.32],
[99,1.92,2.05,2.19,2.35],[101,1.94,2.07,2.22,2.40],[103,1.97,2.10,2.24,2.44],[105,1.98,2.12,2.26,2.47],[107,1.99,2.13,2.27,2.48],
[109,1.99,2.13,2.27,2.48],[111,2.00,2.14,2.28,2.49],[113,2.03,2.17,2.31,2.51],[115,2.06,2.20,2.33,2.52],[117,2.09,2.23,2.37,2.53],
[119,2.15,2.28,2.41,2.51]
];
const edge5 = [[30,2.65],[40,2.82],[47,2.88],[57,2.80],[64,2.66],[70,2.55],[76,2.42],[85,2.38],[95,2.40],[103,2.52],[110,2.58],
[115,2.60],[30,2.25],[38,2.40],[45,2.42],[55,2.30],[62,2.12],[68,1.95],[76,1.78],[82,1.74],[88,1.76],[95,1.80],[102,1.86],
[108,1.88],[114,1.92],[119,2.05],[35,2.78],[52,2.90],[80,2.40],[90,2.36],[106,2.56],[117,2.58],[72,1.85],[98,1.82]];
const loose5 = [[7.4,0.80],[14.8,1.02],[15.5,0.94],[16.9,1.33],[18.7,1.59],[19.5,1.70],[20.2,1.75],[110.5,2.71],[119.2,2.58],
[61.6,2.85],[38.1,2.30],[85.5,1.56],[90.3,1.63],[101.1,1.46],[72.0,1.70],[78.3,1.66],[102.9,1.72],[100.0,1.72],[27.4,2.54],
[36.9,2.79],[50.7,2.43],[56.5,2.20],[62.9,2.03],[69.6,1.91],[45.0,2.85],[55.0,2.88],[75.0,1.78],[96.0,1.80],[107.0,1.85],
[113.0,1.95],[118.0,2.60],[92.0,2.35],[83.0,2.35]];

const legendAlignLabel = "MaxQuant \u0394RT";
const legendPairLabels = ["good (<0min)","bad (>0min)"];

// ---------- assemble ----------
function expandBand(b){ const out=[]; b.forEach(r=>{ for(let i=1;i<r.length;i++) out.push([r[0],r[i]]); }); return out; }
const panels = [
  {bad: expandBand(band1).concat(expandBand(band1b), edge1, loose1), goodUnder: goodUnder1, goodOver: goodOver1},
  {bad: expandBand(band2).concat(expandBand(band2b), edge2, loose2, lower2), goodUnder: goodUnder2, goodOver: []},
  {bad: expandBand(band3).concat(expandBand(band3b), edge3, loose3, lower3), goodUnder: [], goodOver: []},
  {bad: expandBand(band4).concat(expandBand(band4b), edge4, loose4, lower4), goodUnder: [], goodOver: []},
  {bad: expandBand(band5).concat(expandBand(band5b), edge5, loose5), goodUnder: [], goodOver: []}
];

const svg = d3.select("#chart");
const colLeft = [96, 398, 700], rowTop = [54, 630], PW = 288, PH = 514, stripH = 46;
const RED = "rgba(255,0,0,0.5)", GREEN = "rgba(0,255,0,0.5)";
const fmt = d => d < 0 ? "\u2212" + Math.abs(d) : String(d);

panels.forEach((p, i) => {
  const col = i % 3, row = Math.floor(i / 3);
  const L = colLeft[col], T = rowTop[row];
  const x = d3.scaleLinear().domain(xDomain).range([L, L + PW]);
  const y = d3.scaleLinear().domain(yDomain).range([T + PH, T]);
  const g = svg.append("g");
  g.append("rect").attr("x", L).attr("y", T - stripH).attr("width", PW).attr("height", stripH).attr("fill", "#D9D9D9");
  g.append("text").attr("x", L + PW / 2).attr("y", T - stripH + 31.5).attr("text-anchor", "middle")
    .attr("font-size", 24.2).attr("fill", "#1A1A1A").text(stripLabels[i]);
  g.append("rect").attr("x", L).attr("y", T).attr("width", PW).attr("height", PH).attr("fill", "#EBEBEB");
  const clipId = "clip" + i;
  svg.append("clipPath").attr("id", clipId).append("rect").attr("x", L).attr("y", T).attr("width", PW).attr("height", PH);
  const pg = g.append("g").attr("clip-path", `url(#${clipId})`);
  pg.selectAll(".vmin").data(xMinorValues).enter().append("line")
    .attr("x1", d => x(d)).attr("x2", d => x(d)).attr("y1", T).attr("y2", T + PH).attr("stroke", "#fff").attr("stroke-width", 1.1);
  pg.selectAll(".hmin").data(yMinorValues).enter().append("line")
    .attr("y1", d => y(d)).attr("y2", d => y(d)).attr("x1", L).attr("x2", L + PW).attr("stroke", "#fff").attr("stroke-width", 1.1);
  pg.selectAll(".vmaj").data(xTickValues).enter().append("line")
    .attr("x1", d => x(d)).attr("x2", d => x(d)).attr("y1", T).attr("y2", T + PH).attr("stroke", "#fff").attr("stroke-width", 2.2);
  pg.selectAll(".hmaj").data(yTickValues).enter().append("line")
    .attr("y1", d => y(d)).attr("y2", d => y(d)).attr("x1", L).attr("x2", L + PW).attr("stroke", "#fff").attr("stroke-width", 2.2);
  pg.append("line").attr("x1", x(alignStart[i])).attr("x2", x(alignEnd[i])).attr("y1", y(0)).attr("y2", y(0))
    .attr("stroke", "#0000FF").attr("stroke-width", 2.6);
  pg.selectAll(".gu").data(p.goodUnder).enter().append("circle")
    .attr("cx", d => x(d[0])).attr("cy", d => y(d[1])).attr("r", 6).attr("fill", GREEN);
  pg.selectAll(".bad").data(p.bad).enter().append("circle")
    .attr("cx", d => x(d[0])).attr("cy", d => y(d[1])).attr("r", 6).attr("fill", RED);
  pg.selectAll(".go").data(p.goodOver).enter().append("circle")
    .attr("cx", d => x(d[0])).attr("cy", d => y(d[1])).attr("r", 6).attr("fill", GREEN);

  const styleAxis = ax => {
    ax.select(".domain").remove();
    ax.selectAll(".tick line").attr("stroke", "#333333").attr("stroke-width", 2);
    ax.selectAll(".tick text").attr("fill", "#4D4D4D").attr("font-size", 23.2)
      .attr("font-family", "'Liberation Sans',Arial,Helvetica,sans-serif");
  };
  if (col === 0) {
    const ax = svg.append("g").attr("transform", `translate(${L},0)`)
      .call(d3.axisLeft(y).tickValues(yTickValues).tickSize(6.7).tickPadding(7).tickFormat(fmt));
    styleAxis(ax);
  }
  if (row === 1 || col === 2) {
    const ax = svg.append("g").attr("transform", `translate(0,${T + PH})`)
      .call(d3.axisBottom(x).tickValues(xTickValues).tickSize(6.7).tickFormat(fmt));
    styleAxis(ax);
    ax.selectAll(".tick text").attr("y", 31).attr("dy", null);
  }
});

svg.append("text").attr("x", 542).attr("y", 1207).attr("text-anchor", "middle").attr("font-size", 29).attr("fill", "#000")
  .text("corrected RT [min]");
svg.append("text").attr("transform", "translate(37,599) rotate(-90)").attr("text-anchor", "middle").attr("font-size", 29)
  .attr("fill", "#000").text("\u0394RT [min]");

const lg = svg.append("g");
lg.append("text").attr("x", 1033).attr("y", 480).attr("font-size", 29).attr("fill", "#000").text("Alignment function");
lg.append("rect").attr("x", 1032).attr("y", 497).attr("width", 46).attr("height", 46).attr("fill", "#F2F2F2");
lg.append("line").attr("x1", 1037).attr("x2", 1073).attr("y1", 520).attr("y2", 520).attr("stroke", "#0000FF").attr("stroke-width", 2.6);
lg.append("text").attr("x", 1093).attr("y", 529).attr("font-size", 23.2).attr("fill", "#000").text(legendAlignLabel);
lg.append("text").attr("x", 1032).attr("y", 627).attr("font-size", 29).attr("font-weight", "bold").attr("fill", "#000")
  .text("ID pairs (\u0394RT to Ref)");
lg.append("rect").attr("x", 1032).attr("y", 650).attr("width", 46).attr("height", 93).attr("fill", "#F2F2F2");
[GREEN, RED].forEach((c, k) => {
  lg.append("circle").attr("cx", 1055).attr("cy", 673.5 + k * 46.5).attr("r", 6).attr("fill", c);
  lg.append("text").attr("x", 1093).attr("y", 682 + k * 46.5).attr("font-size", 23.2).attr("fill", "#000").text(legendPairLabels[k]);
});

svg.append("text").attr("x", 27).attr("y", 1222).attr("font-size", 19).attr("fill", "#000").text("report_v0.92.6_combined.pdf");
svg.append("text").attr("x", 1316).attr("y", 1222).attr("font-size", 19).attr("text-anchor", "end").attr("fill", "#000").text("p. 15");
</script>
</body></html>
